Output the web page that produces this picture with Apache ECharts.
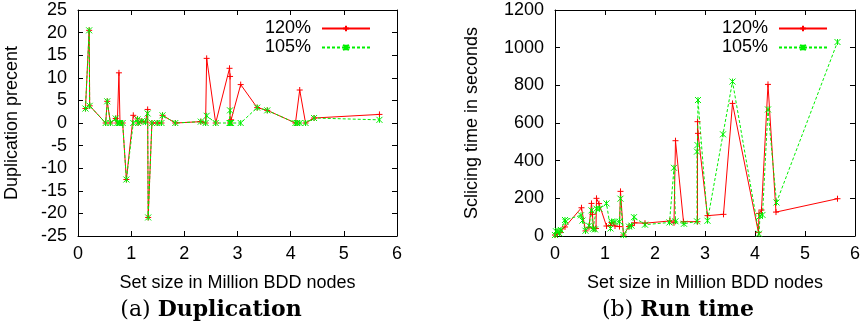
<!DOCTYPE html>
<html><head><meta charset="utf-8">
<script src="https://cdn.jsdelivr.net/npm/echarts@6/dist/echarts.min.js"></script>
<style>html,body{margin:0;padding:0;background:#fff}#c{width:863px;height:330px}</style>
</head><body><div id="c"></div>
<script>
// ---- Data: (a) Duplication ----
const dupX   = [0.14,0.21,0.22,0.52,0.55,0.61,0.71,0.74,0.77,0.79,0.84,0.91,1.04,1.12,1.13,1.20,1.27,1.31,1.32,1.39,1.49,1.57,1.59,1.83,2.31,2.40,2.42,2.59,2.85,2.86,2.86,2.88,3.06,3.37,3.56,4.09,4.12,4.17,4.28,4.44,5.67];
const dup120 = [3.2,20.5,3.8,0,4.8,0,1.0,0,11.1,0,0,-12.5,1.7,0.9,0,0.4,0.2,3.0,-20.9,0,0,0,1.7,0,0.3,0,14.3,0,12.1,10.3,0,0.7,8.5,3.4,2.8,0,0,7.3,0,1.1,1.9];
const dup105 = [3.2,20.5,3.8,0,4.8,0,1.0,0,0,0,0,-12.5,0,0.8,0,0.4,0.2,2.1,-20.9,0,0,0,1.7,0,0.3,0,1.6,0,0,2.8,0,0,0,3.4,2.8,0,0,0,0,1.1,0.7];

// ---- Data: (b) Run time ----
const timeX120 = [0.00,0.04,0.10,0.20,0.53,0.61,0.68,0.73,0.75,0.77,0.82,0.83,0.88,1.03,1.11,1.13,1.20,1.29,1.31,1.37,1.48,1.53,1.59,1.80,2.30,2.38,2.41,2.57,2.85,2.85,2.86,3.05,3.37,3.55,4.07,4.08,4.13,4.26,4.42,5.65];
const time120  = [5,12,18,48,150,27,46,173,115,40,40,200,172,53,55,72,53,50,237,5,50,55,70,68,80,70,506,76,76,607,545,108,115,704,18,120,138,805,127,198];
const timeX105 = [0.00,0.02,0.06,0.09,0.12,0.20,0.21,0.52,0.55,0.61,0.68,0.73,0.76,0.80,0.83,0.89,1.03,1.11,1.13,1.20,1.29,1.31,1.37,1.48,1.53,1.58,1.80,2.29,2.38,2.41,2.58,2.84,2.84,2.85,2.86,3.05,3.36,3.55,4.08,4.10,4.15,4.26,4.43,5.65];
const time105  = [5,25,28,14,32,85,75,110,82,28,55,136,38,35,145,145,173,40,76,76,76,198,5,50,55,100,60,72,362,78,65,78,448,483,722,81,540,820,12,106,112,672,178,1030];

// ---- Axis ticks ----
const xMin = 0, xMax = 6, xStep = 1;
const dupMin = -25, dupMax = 25, dupStep = 5;
const timeMin = 0, timeMax = 1200, timeStep = 200;

const zip = (xs, ys) => xs.map((x, i) => [x, ys[i]]);
const RED = '#ff0000', GREEN = '#00f000';
const plus = 'path://M0,5L10,5M5,0L5,10';
const cross = 'path://M0,0L10,10M10,0L0,10M5,0L5,10';
const FONT = 'Liberation Sans';
const plain = v => String(v);

function mainX(gi, name) {
  return { gridIndex: gi, type: 'value', min: xMin, max: xMax, interval: xStep,
    name: name, nameLocation: 'middle', nameGap: 38,
    nameTextStyle: { fontFamily: FONT, fontSize: 18, color: '#000' },
    axisLine: { show: true, onZero: false, lineStyle: { color: '#000', width: 1 } },
    axisTick: { show: true, inside: true, length: 5, lineStyle: { color: '#000' } },
    axisLabel: { fontFamily: FONT, fontSize: 18, color: '#000', margin: 9, formatter: plain },
    splitLine: { show: false } };
}
function mirrorX(gi) {
  return { gridIndex: gi, type: 'value', position: 'top', min: xMin, max: xMax, interval: xStep,
    axisLine: { show: true, onZero: false, lineStyle: { color: '#000', width: 1 } },
    axisTick: { show: true, inside: true, length: 5, lineStyle: { color: '#000' } },
    axisLabel: { show: false }, splitLine: { show: false } };
}
function mainY(gi, name, mn, mx, st, gap) {
  return { gridIndex: gi, type: 'value', min: mn, max: mx, interval: st,
    name: name, nameLocation: 'middle', nameGap: gap, nameRotate: 90,
    nameTextStyle: { fontFamily: FONT, fontSize: 18, color: '#000' },
    axisLine: { show: true, onZero: false, lineStyle: { color: '#000', width: 1 } },
    axisTick: { show: true, inside: true, length: 5, lineStyle: { color: '#000' } },
    axisLabel: { fontFamily: FONT, fontSize: 18, color: '#000', margin: 11, formatter: plain },
    splitLine: { show: false } };
}
function mirrorY(gi, mn, mx, st) {
  return { gridIndex: gi, type: 'value', position: 'right', min: mn, max: mx, interval: st,
    axisLine: { show: true, onZero: false, lineStyle: { color: '#000', width: 1 } },
    axisTick: { show: true, inside: true, length: 5, lineStyle: { color: '#000' } },
    axisLabel: { show: false }, splitLine: { show: false } };
}
function redSeries(xi, yi, data) {
  return { name: '120%', type: 'line', xAxisIndex: xi, yAxisIndex: yi, data: data,
    symbol: plus, symbolSize: 6, showSymbol: true, animation: false,
    lineStyle: { color: RED, width: 1 },
    itemStyle: { color: RED, borderColor: RED, borderWidth: 1 } };
}
function greenSeries(xi, yi, data) {
  return { name: '105%', type: 'line', xAxisIndex: xi, yAxisIndex: yi, data: data,
    symbol: cross, symbolSize: 6, showSymbol: true, animation: false,
    lineStyle: { color: GREEN, width: 1, type: [3, 2] },
    itemStyle: { color: GREEN, borderColor: GREEN, borderWidth: 1 } };
}
function legend(right) {
  return { orient: 'vertical', right: right, top: 14, align: 'right', itemGap: 0,
    itemWidth: 48, itemHeight: 7, data: ['120%', '105%'],
    textStyle: { fontFamily: FONT, fontSize: 18, color: '#000', padding: [0, 6, 0, 0], lineHeight: 19 } };
}

const chart = echarts.init(document.getElementById('c'), null, { renderer: 'canvas' });
const capRich = {
  n: { fontFamily: 'DejaVu Serif', fontSize: 22, fill: '#000' },
  b: { fontFamily: 'DejaVu Serif', fontWeight: 'bold', fontSize: 22, fill: '#000' }
};
chart.setOption({
  animation: false,
  backgroundColor: '#fff',
  grid: [
    { left: 78, top: 10, width: 319, height: 226 },
    { left: 555, top: 10, width: 300, height: 226 }
  ],
  xAxis: [ mainX(0, 'Set size in Million BDD nodes'), mirrorX(0),
           mainX(1, 'Set size in Million BDD nodes'), mirrorX(1) ],
  yAxis: [ mainY(0, 'Duplication precent', dupMin, dupMax, dupStep, 57), mirrorY(0, dupMin, dupMax, dupStep),
           mainY(1, 'Sclicing time in seconds', timeMin, timeMax, timeStep, 74), mirrorY(1, timeMin, timeMax, timeStep) ],
  legend: [ legend(487), legend(30) ],
  series: [
    redSeries(0, 0, zip(dupX, dup120)),
    greenSeries(0, 0, zip(dupX, dup105)),
    redSeries(2, 2, zip(timeX120, time120)),
    greenSeries(2, 2, zip(timeX105, time105))
  ],
  graphic: [
    { type: 'text', x: 211, y: 310, style: { text: '{n|(a) }{b|Duplication}', align: 'center', verticalAlign: 'middle', rich: capRich } },
    { type: 'text', x: 678, y: 310, style: { text: '{n|(b) }{b|Run time}', align: 'center', verticalAlign: 'middle', rich: capRich } }
  ]
});
</script></body></html>
